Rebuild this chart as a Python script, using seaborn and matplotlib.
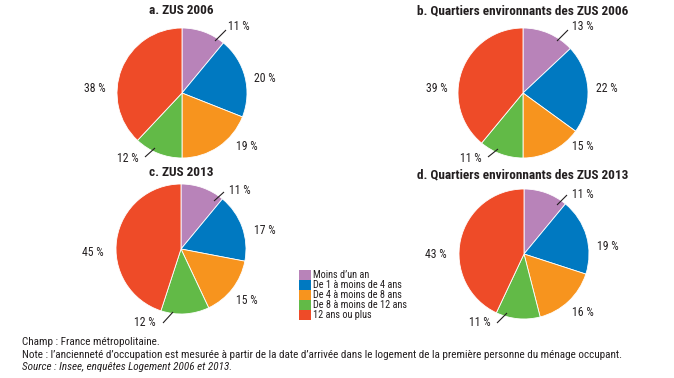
import matplotlib
matplotlib.use("Agg")
import matplotlib.pyplot as plt
from matplotlib.patches import Rectangle
from matplotlib import font_manager
import seaborn as sns

categories = ["Moins d’un an", "De 1 à moins de 4 ans", "De 4 à moins de 8 ans",
              "De 8 à moins de 12 ans", "12 ans ou plus"]
zus_2006 = [11, 20, 19, 12, 38]
env_2006 = [13, 22, 15, 11, 39]
zus_2013 = [11, 17, 15, 12, 45]
env_2013 = [11, 19, 16, 11, 43]
titles = ["a. ZUS 2006", "b. Quartiers environnants des ZUS 2006",
          "c. ZUS 2013", "d. Quartiers environnants des ZUS 2013"]
series = [zus_2006, env_2006, zus_2013, env_2013]

colors = ["#B883B9", "#0079C1", "#F7941E", "#62BA47", "#EE4B28"]

sns.set_theme(style="white")
names = {f.name for f in font_manager.fontManager.ttflist}
main = "Roboto Condensed" if "Roboto Condensed" in names else "DejaVu Sans"
plt.rcParams["font.family"] = [main, "DejaVu Sans"]
TXT = "#231F20"

W, H = 674, 378
fig = plt.figure(figsize=(W / 100, H / 100), dpi=100)
fig.patch.set_facecolor("white")

R = 65.0
centers = [(182, 93), (523, 93), (181, 249), (524, 254)]
title_pos = [(181, 11), (523, 11), (181, 173), (523, 175)]
label_off = [
    [(57, 66), (83, 14), (65, -54), (-54, -66), (-87, 4)],
    [(60, 67), (84, 5), (60, -54), (-52, -66), (-86, 5)],
    [(59, 58), (84, 18), (66, -52), (-36, -74), (-88, -4)],
    [(59, 60), (84, 8), (59, -59), (-44, -69), (-88, 0)],
]
leaders = [
    [((33, 52), (44, 63)), ((-27, -55), (-37, -64))],
    [((34, 52), (45, 63)), ((-25, -56), (-35, -64))],
    [((33, 48), (43, 57)), ((-8, -63), (-18, -74))],
    [((33, 49), (43, 59)), ((-17, -59), (-27, -69))],
]

BW, BH = 300, 170
for vals, (cx, cy), title, (tx, ty), loffs, lds in zip(series, centers, titles, title_pos, label_off, leaders):
    ax = fig.add_axes([(cx - BW / 2) / W, 1 - (cy + BH / 2) / H, BW / W, BH / H])
    ax.pie(vals, colors=colors, startangle=90, counterclock=False, radius=1,
           wedgeprops=dict(edgecolor="white", linewidth=0.6))
    ax.set_aspect("auto")
    ax.set_xlim(-BW / 2 / R, BW / 2 / R)
    ax.set_ylim(-BH / 2 / R, BH / 2 / R)
    ax.axis("off")
    for v, (dx, dy) in zip(vals, loffs):
        ax.text(dx / R, dy / R, f"{v} %", ha="center", va="center", fontsize=8.5,
                color=TXT, clip_on=False)
    for (p0, p1) in lds:
        ax.plot([p0[0] / R, p1[0] / R], [p0[1] / R, p1[1] / R], color=TXT, lw=0.8,
                clip_on=False, solid_capstyle="butt")
    fig.text(tx / W, 1 - ty / H, title, ha="center", va="center", fontsize=9.5,
             fontweight="bold", color=TXT)

# legend
lx, ly0, step = 299, 275, 10
for i, (cat, col) in enumerate(zip(categories, colors)):
    yc = ly0 + i * step
    fig.patches.append(Rectangle((lx / W, 1 - (yc + 4.7) / H), 12 / W, 9.4 / H,
                                 transform=fig.transFigure, facecolor=col, edgecolor="none"))
    fig.text(313 / W, 1 - yc / H, cat, ha="left", va="center", fontsize=7.4, color=TXT)

fig.text(22 / W, 1 - 342 / H, "Champ : France métropolitaine.", ha="left", va="center",
         fontsize=8, color=TXT)
fig.text(22 / W, 1 - 355 / H,
         "Note : l’ancienneté d’occupation est mesurée à partir de la date d’arrivée dans le logement de la première personne du ménage occupant.",
         ha="left", va="center", fontsize=8, color=TXT)
fig.text(22 / W, 1 - 367 / H, "Source : Insee, enquêtes Logement 2006 et 2013.", ha="left",
         va="center", fontsize=8, color=TXT, style="italic")

fig.savefig("out.png", dpi=100, facecolor="white")
